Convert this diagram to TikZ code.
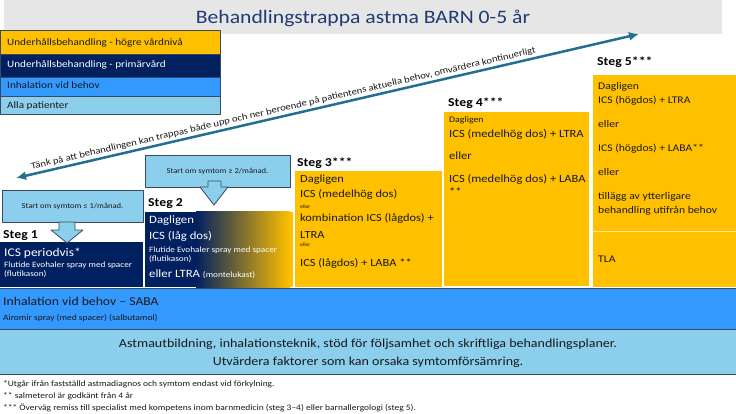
\documentclass[tikz,border=0pt]{standalone}
\usepackage{fontspec}
\setmainfont{Carlito}[FakeStretch=1.14]
\usepackage{tikz}
\usetikzlibrary{arrows,arrows.meta,calc,positioning,shapes}
\tikzset{>=latex}
\definecolor{ffcqqq}{rgb}{1.,0.753,0.}
\definecolor{qqbsfq}{rgb}{0.,0.125,0.376}
\definecolor{tsfaff}{rgb}{0.2,0.6,1.}
\definecolor{icdzee}{rgb}{0.55,0.81,0.93}
\definecolor{eeeeee}{rgb}{0.906,0.902,0.902}
\definecolor{dgjiqq}{rgb}{0.14,0.43,0.56}
\definecolor{ttetgg}{rgb}{0.22,0.29,0.38}
\definecolor{bgdxpp}{rgb}{0.12,0.23,0.45}
\definecolor{ttuuuu}{rgb}{0.1,0.1,0.1}

\begin{document}
\begin{tikzpicture}[line cap=round,line join=round,x=1pt,y=-1pt,
  txt/.style={anchor=base west,inner sep=0pt,text=ttuuuu,font=\fontsize{11}{13}\selectfont},
  vittxt/.style={txt,text=white},
  smatxt/.style={txt,font=\fontsize{8.1}{9}\selectfont},
  stegnamn/.style={txt,text=black,font=\bfseries\fontsize{12.1}{14}\selectfont},
  startruta/.style={draw=ttetgg,line width=0.8pt,fill=icdzee,font=\fontsize{7.5}{8}\selectfont,text=ttuuuu,inner sep=0pt},
  blockpil/.style={draw=ttetgg,line width=0.8pt,fill=icdzee}]
\useasboundingbox (0,0) rectangle (736,414);
% rubrik
\fill[eeeeee] (4,0) rectangle (722,34);
\node[text=bgdxpp,font=\fontsize{19}{23}\selectfont] (titel) at (363,18) {Behandlingstrappa astma BARN 0-5 år};
% teckenforklaring
\draw[fill=ffcqqq,draw=ttetgg,line width=0.8pt] (0,30) rectangle (220,54);
\draw[fill=qqbsfq,draw=ttetgg,line width=0.8pt] (0,54) rectangle (220,77);
\draw[fill=tsfaff,draw=ttetgg,line width=0.8pt] (0,77) rectangle (220,96);
\draw[fill=icdzee,draw=ttetgg,line width=0.8pt] (0,96) rectangle (220,114);
\node[txt,font=\fontsize{9.8}{12}\selectfont] (hogre) at (7,46) {Underhållsbehandling - högre vårdnivå};
\node[vittxt,font=\fontsize{9.8}{12}\selectfont] (primar) at (7,68) {Underhållsbehandling - primärvård};
\node[txt,font=\fontsize{9.8}{12}\selectfont] (inhal) at (7,89) {Inhalation vid behov};
\node[txt,font=\fontsize{9.8}{12}\selectfont] (alla) at (7,109) {Alla patienter};
% pil upp och ner
\coordinate (ned) at (16,178);
\coordinate (upp) at (639,34);
\draw[{Latex[length=10pt,width=9pt]}-{Latex[length=10pt,width=9pt]},line width=2.5pt,color=dgjiqq] (ned) -- (upp)
  node[pos=0.432,above=2pt,sloped,inner sep=0pt,text=ttuuuu,font=\fontsize{9.3}{11}\selectfont] (tank) {Tänk på att behandlingen kan trappas både upp och ner beroende på patientens aktuella behov, omvärdera kontinuerligt};
% steg 1
\node[startruta,minimum width=141pt,minimum height=32pt] (start1) at (72.5,206) {Start om symtom ≤ 1/månad.};
\fill[qqbsfq] (0,242) rectangle (143,287);
\draw[blockpil] (59,222) -- (75,222) -- (75,230) -- (83,230) -- (67,243) -- (51,230) -- (59,230) -- cycle;
\node[stegnamn] (steg1) at (3,238) {Steg 1};
\node[vittxt,font=\fontsize{11.8}{13}\selectfont] (ics1) at (4,256) {ICS periodvis*};
\node[smatxt,text=white] (flut1) at (4,267) {Flutide Evohaler spray med spacer};
\node[smatxt,text=white] (flut1b) at (4,276) {(flutikason)};
% steg 2
\node[startruta,minimum width=145pt,minimum height=32pt] (start2) at (217.5,171) {Start om symtom ≥ 2/månad.};
\fill[qqbsfq] (145,212) rectangle (196,287);
\shade[left color=qqbsfq,right color=ffcqqq] (196,212) rectangle (290,287);
\fill[ffcqqq] (290,212) rectangle (293,287);
\draw[blockpil] (208,181) -- (221,181) -- (221,187) -- (228,187) -- (214,205) -- (200,187) -- (208,187) -- cycle;
\node[stegnamn] (steg2) at (148,207) {Steg 2};
\node[vittxt,font=\fontsize{11.2}{13}\selectfont] (dag2) at (149,224) {Dagligen};
\node[vittxt,font=\fontsize{11.2}{13}\selectfont] (ics2) at (149,239) {ICS (låg dos)};
\node[smatxt,text=white] (flut2) at (149,252) {Flutide Evohaler spray med spacer};
\node[smatxt,text=white] (flut2b) at (149,261) {(flutikason)};
\node[vittxt,font=\fontsize{11.2}{13}\selectfont] (ltra2) at (149,277) {eller LTRA {\fontsize{8.1}{9}\selectfont(montelukast)}};
% steg 3
\draw[fill=ffcqqq,draw=white,line width=0.6pt] (294,170) rectangle (442,287);
\node[stegnamn] (steg3) at (297,167) {Steg 3***};
\node[txt,font=\fontsize{10.9}{13}\selectfont] (dag3) at (300,183) {Dagligen};
\node[txt,font=\fontsize{10.9}{13}\selectfont] (ics3) at (300,198) {ICS (medelhög dos)};
\node[txt,font=\fontsize{5}{6}\selectfont] (eller3a) at (300,208) {eller};
\node[txt,font=\fontsize{10.9}{13}\selectfont] (komb3) at (300,222) {kombination ICS (lågdos) +};
\node[txt,font=\fontsize{10.9}{13}\selectfont] (ltra3) at (300,238) {LTRA};
\node[txt,font=\fontsize{5}{6}\selectfont] (eller3b) at (300,247) {eller};
\node[txt,font=\fontsize{10.9}{13}\selectfont] (laba3) at (300,266) {ICS (lågdos) + LABA **};
% steg 4
\draw[fill=ffcqqq,draw=white,line width=0.8pt] (443,111) rectangle (589,286);
\node[stegnamn] (steg4) at (448,107) {Steg 4***};
\node[txt,font=\fontsize{8.6}{10}\selectfont] (dag4) at (449,123) {Dagligen};
\node[txt] (ltra4) at (449,138) {ICS (medelhög dos) + LTRA};
\node[txt] (eller4) at (449,160) {eller};
\node[txt] (laba4) at (449,183) {ICS (medelhög dos) + LABA};
\node[txt] (stj4) at (449,196) {**};
% steg 5
\fill[ffcqqq] (593,75) rectangle (736,287);
\draw[line width=0.8pt,color=ffcqqq!40] (593,231) -- (736,231);
\node[stegnamn] (steg5) at (597,66) {Steg 5***};
\node[txt,font=\fontsize{10.2}{12}\selectfont] (dag5) at (598,90) {Dagligen};
\node[txt,font=\fontsize{10.2}{12}\selectfont] (ltra5) at (598,104) {ICS (högdos) + LTRA};
\node[txt,font=\fontsize{10.2}{12}\selectfont] (eller5a) at (598,128) {eller};
\node[txt,font=\fontsize{10.2}{12}\selectfont] (laba5) at (598,152) {ICS (högdos) + LABA**};
\node[txt,font=\fontsize{10.2}{12}\selectfont] (eller5b) at (598,176) {eller};
\node[txt,font=\fontsize{10.2}{12}\selectfont] (tillagg5) at (598,200) {tillägg av ytterligare};
\node[txt,font=\fontsize{10.2}{12}\selectfont] (behov5) at (598,214) {behandling utifrån behov};
\node[txt,font=\fontsize{10.2}{12}\selectfont] (tla5) at (598,262) {TLA};
% inhalation vid behov och alla patienter
\draw[fill=tsfaff,draw=ttetgg,line width=0.8pt] (-1,288) rectangle (737,329);
\node[txt,font=\fontsize{12}{14}\selectfont] (saba) at (3,305) {Inhalation vid behov – SABA};
\node[txt,font=\fontsize{8.3}{9}\selectfont] (airomir) at (3,320) {Airomir spray (med spacer) (salbutamol)};
\draw[fill=icdzee,draw=ttetgg,line width=0.8pt] (-1,329) rectangle (737,374);
\node[txt,anchor=base,font=\fontsize{12.3}{14}\selectfont] (utb) at (368,347) {Astmautbildning, inhalationsteknik, stöd för följsamhet och skriftliga behandlingsplaner.};
\node[txt,anchor=base,font=\fontsize{12.3}{14}\selectfont] (utv) at (368,365) {Utvärdera faktorer som kan orsaka symtomförsämring.};
% fotnoter
\node[txt,font=\fontsize{8.3}{9}\selectfont] (fot1) at (3,386) {*Utgår ifrån fastställd astmadiagnos och symtom endast vid förkylning.};
\node[txt,font=\fontsize{8.3}{9}\selectfont] (fot2) at (3,398) {** salmeterol är godkänt från 4 år};
\node[txt,font=\fontsize{8.3}{9}\selectfont] (fot3) at (3,410) {*** Överväg remiss till specialist med kompetens inom barnmedicin (steg 3–4) eller barnallergologi (steg 5).};
\end{tikzpicture}
\end{document}
